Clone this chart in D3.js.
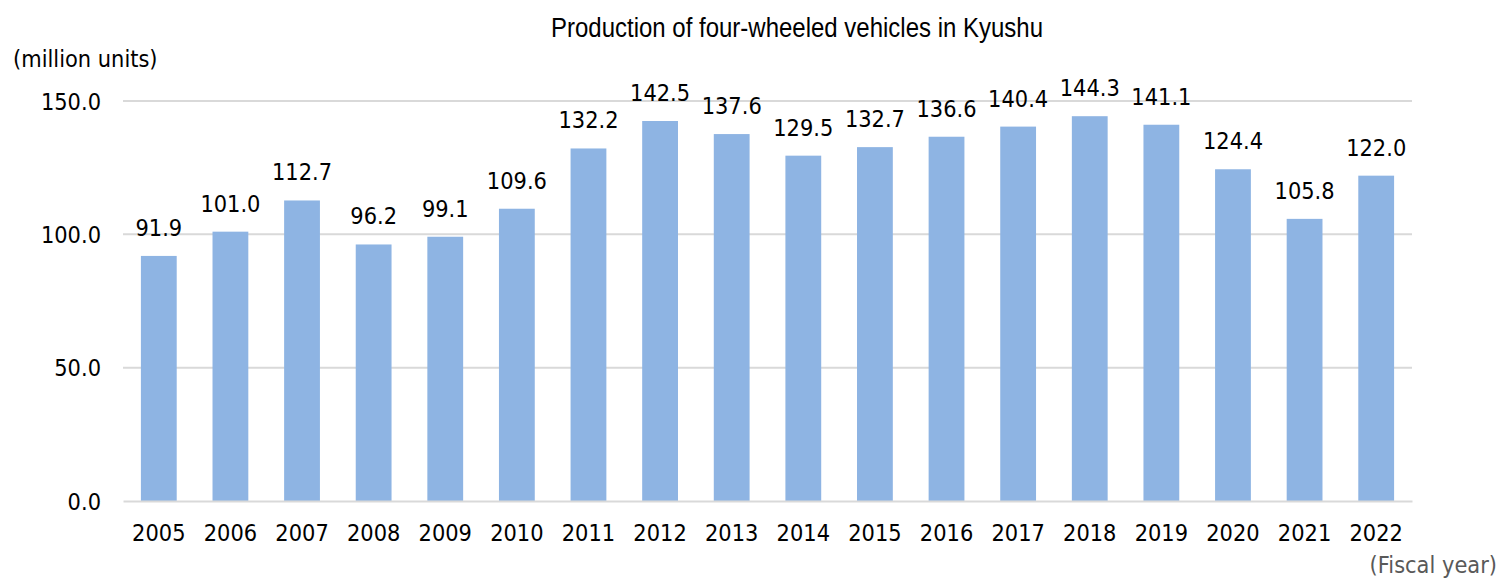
<!DOCTYPE html>
<html>
<head>
<meta charset="utf-8">
<script src="https://cdn.jsdelivr.net/npm/d3@7"></script>
<style>
  html, body { margin: 0; padding: 0; background: #fff; }
  svg { display: block; }
</style>
</head>
<body>
<svg id="chart" width="1501" height="580"></svg>
<script>
const years = ["2005","2006","2007","2008","2009","2010","2011","2012","2013","2014","2015","2016","2017","2018","2019","2020","2021","2022"];
const production = [91.9,101.0,112.7,96.2,99.1,109.6,132.2,142.5,137.6,129.5,132.7,136.6,140.4,144.3,141.1,124.4,105.8,122.0];
const yTicks = [0, 50, 100, 150];
const titleText = "Production of four-wheeled vehicles in Kyushu";
const yUnitText = "(million units)";
const xUnitText = "(Fiscal year)";

const svg = d3.select("#chart");
const plotLeft = 123, plotRight = 1412, plotTop = 101, plotBottom = 501;

const x = d3.scaleBand().domain(years).range([plotLeft, plotRight]).paddingInner(0.5).paddingOuter(0.25);
const y = d3.scaleLinear().domain([0, 150]).range([plotBottom, plotTop]);

const fontNum = "'DejaVu Sans', Verdana, sans-serif";
const fs = 21;
const stretch = 1.1;
const place = (px, py) => `translate(${px},${py}) scale(1,${stretch})`;

// gridlines
svg.append("g")
  .selectAll("line")
  .data(yTicks.filter(d => d > 0))
  .join("line")
  .attr("x1", plotLeft).attr("x2", plotRight)
  .attr("y1", d => y(d)).attr("y2", d => y(d))
  .attr("stroke", "#d9d9d9").attr("stroke-width", 2);

// bars
svg.append("g")
  .selectAll("rect")
  .data(production)
  .join("rect")
  .attr("x", (d, i) => x(years[i]))
  .attr("width", x.bandwidth())
  .attr("y", d => y(d))
  .attr("height", d => y(0) - y(d))
  .attr("fill", "#8eb4e3");

// x axis
const xAxis = svg.append("g")
  .attr("transform", `translate(0,${plotBottom})`)
  .call(d3.axisBottom(x).tickSize(0).tickPadding(0));
xAxis.select(".domain").attr("stroke", "#d9d9d9").attr("stroke-width", 2);
xAxis.selectAll("text")
  .attr("y", 0).attr("dy", null)
  .attr("transform", place(0, 40))
  .attr("font-family", fontNum).attr("font-size", fs).attr("fill", "#000");

// y axis
const yAxis = svg.append("g")
  .attr("transform", `translate(${plotLeft},0)`)
  .call(d3.axisLeft(y).tickValues(yTicks).tickSize(0).tickPadding(0).tickFormat(d3.format(".1f")));
yAxis.select(".domain").remove();
yAxis.selectAll("text")
  .attr("x", 0).attr("dy", "0.36em")
  .attr("transform", place(-22, 0))
  .attr("font-family", fontNum).attr("font-size", fs).attr("fill", "#000");

// data labels
svg.append("g")
  .selectAll("text")
  .data(production)
  .join("text")
  .attr("transform", (d, i) => place(x(years[i]) + x.bandwidth() / 2, y(d) - 20))
  .attr("text-anchor", "middle")
  .attr("font-family", fontNum).attr("font-size", fs).attr("fill", "#000")
  .text(d => d.toFixed(1));

// title
svg.append("text")
  .attr("transform", `translate(797,37) scale(1,1.12)`)
  .attr("text-anchor", "middle")
  .attr("font-family", "'Liberation Sans', Arial, sans-serif")
  .attr("font-size", 24).attr("fill", "#000")
  .text(titleText);

// y unit
svg.append("text")
  .attr("transform", place(13, 67))
  .attr("font-family", fontNum).attr("font-size", fs).attr("fill", "#000")
  .text(yUnitText);

// x unit
svg.append("text")
  .attr("transform", place(1497, 573))
  .attr("text-anchor", "end")
  .attr("font-family", fontNum).attr("font-size", fs).attr("fill", "#595959")
  .text(xUnitText);
</script>
</body>
</html>
